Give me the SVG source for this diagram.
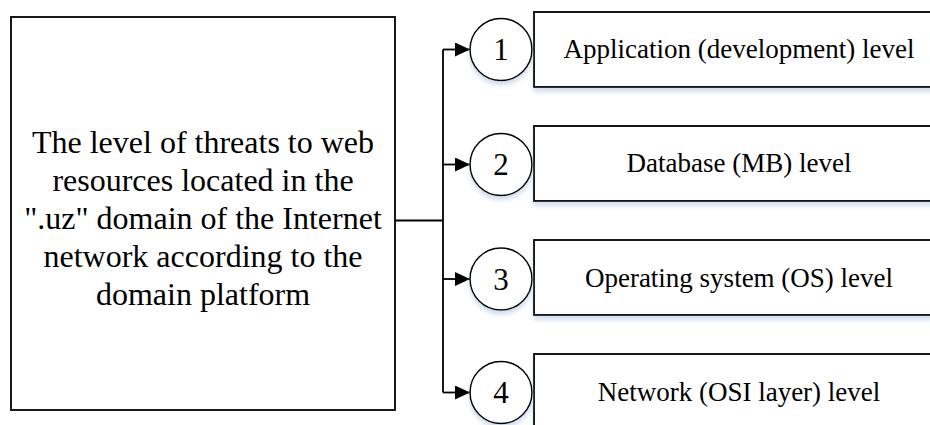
<svg xmlns="http://www.w3.org/2000/svg" width="930" height="425" viewBox="0 0 930 425">
<defs>
<style>
.box{fill:#fff;stroke:#000;stroke-width:1.8}
.lvl{fill:#fff;stroke:#000;stroke-width:1.8;filter:url(#sh)}
.circ{fill:#fff;stroke:#000;stroke-width:1.5;filter:url(#sh)}
.t{font-family:"Liberation Serif","Times New Roman",serif;fill:#000;text-anchor:middle}
.conn{fill:none;stroke:#000;stroke-width:1.8}
</style>
<filter id="sh" x="-10%" y="-10%" width="120%" height="140%">
<feDropShadow dx="0" dy="4" stdDeviation="2" flood-color="#9db8d9" flood-opacity="0.45"/>
</filter>
<marker id="arr" markerWidth="16" markerHeight="14" refX="15" refY="7" orient="auto" markerUnits="userSpaceOnUse">
<path d="M0,0 L15,7 L0,14 Z" fill="#000"/>
</marker>
</defs>
<rect width="930" height="425" fill="#fff"/>
<g id="main">
<rect class="box" x="11" y="17" width="384" height="393"/>
<text class="t" font-size="32" x="203"><tspan x="203" y="153">The level of threats to web</tspan><tspan x="203" y="191">resources located in the</tspan><tspan x="203" y="229">".uz" domain of the Internet</tspan><tspan x="203" y="267">network according to the</tspan><tspan x="203" y="305">domain platform</tspan></text>
</g>
<g id="connectors">
<path class="conn" d="M395,220.5 H443 M443,49.5 V392.5"/>
<path class="conn" d="M443,49.5 H470" marker-end="url(#arr)"/>
<path class="conn" d="M443,164.5 H470" marker-end="url(#arr)"/>
<path class="conn" d="M443,279 H470" marker-end="url(#arr)"/>
<path class="conn" d="M443,392.5 H470" marker-end="url(#arr)"/>
</g>
<g id="level1">
<rect class="lvl" x="534" y="12" width="410" height="75"/>
<circle class="circ" cx="501" cy="49.5" r="31"/>
<text class="t" font-size="31" x="501" y="60">1</text>
<text class="t" font-size="27" x="739" y="58">Application (development) level</text>
</g>
<g id="level2">
<rect class="lvl" x="534" y="126" width="410" height="75"/>
<circle class="circ" cx="501" cy="164.5" r="31"/>
<text class="t" font-size="31" x="501" y="175">2</text>
<text class="t" font-size="27" x="739" y="172">Database (MB) level</text>
</g>
<g id="level3">
<rect class="lvl" x="534" y="240" width="410" height="75"/>
<circle class="circ" cx="501" cy="279" r="31"/>
<text class="t" font-size="31" x="501" y="289.5">3</text>
<text class="t" font-size="27" x="739" y="287">Operating system (OS) level</text>
</g>
<g id="level4">
<rect class="lvl" x="534" y="354" width="410" height="80"/>
<circle class="circ" cx="501" cy="392.5" r="31"/>
<text class="t" font-size="31" x="501" y="403">4</text>
<text class="t" font-size="27" x="739" y="401">Network (OSI layer) level</text>
</g>
</svg>
